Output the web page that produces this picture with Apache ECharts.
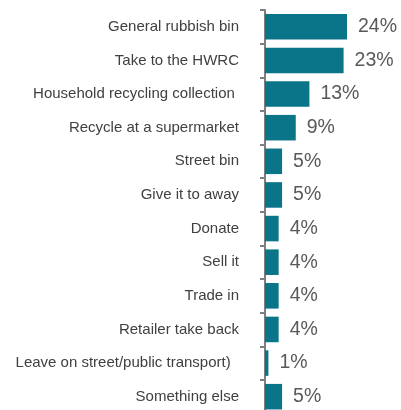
<!DOCTYPE html>
<html>
<head>
<meta charset="utf-8">
<script src="https://cdn.jsdelivr.net/npm/echarts@6/dist/echarts.min.js"></script>
<style>
html,body{margin:0;padding:0;background:#fff;}
#c{width:401px;height:410px;}
</style>
</head>
<body>
<div id="c"></div>
<script>
const categories = [
  "General rubbish bin",
  "Take to the HWRC",
  "Household recycling collection ",
  "Recycle at a supermarket",
  "Street bin",
  "Give it to away",
  "Donate",
  "Sell it",
  "Trade in",
  "Retailer take back",
  "Leave on street/public transport)  ",
  "Something else"
];
const values = [24, 23, 13, 9, 5, 5, 4, 4, 4, 4, 1, 5];

const chart = echarts.init(document.getElementById('c'), null, {renderer: 'canvas'});
chart.setOption({
  animation: false,
  grid: {left: 265, right: 33.5, top: 10, height: 403.5, containLabel: false, outerBoundsMode: 'none'},
  xAxis: {
    type: 'value', min: 0, max: 30,
    show: false
  },
  yAxis: {
    type: 'category',
    data: categories,
    inverse: true,
    axisLine: {show: true, lineStyle: {color: '#7f7f7f', width: 2}},
    axisTick: {show: true, length: 5, lineStyle: {color: '#7f7f7f', width: 2}},
    axisLabel: {
      margin: 26,
      color: '#404040',
      fontFamily: '"Liberation Sans", Arial, sans-serif',
      fontSize: 15
    },
    splitLine: {show: false}
  },
  series: [{
    type: 'bar',
    data: values,
    barCategoryGap: '24%',
    itemStyle: {color: '#0a7588'},
    label: {
      show: true,
      position: 'right',
      distance: 11,
      formatter: '{c}%',
      color: '#595959',
      fontFamily: '"Liberation Sans", Arial, sans-serif',
      fontSize: 19.5
    }
  }]
});
</script>
</body>
</html>
